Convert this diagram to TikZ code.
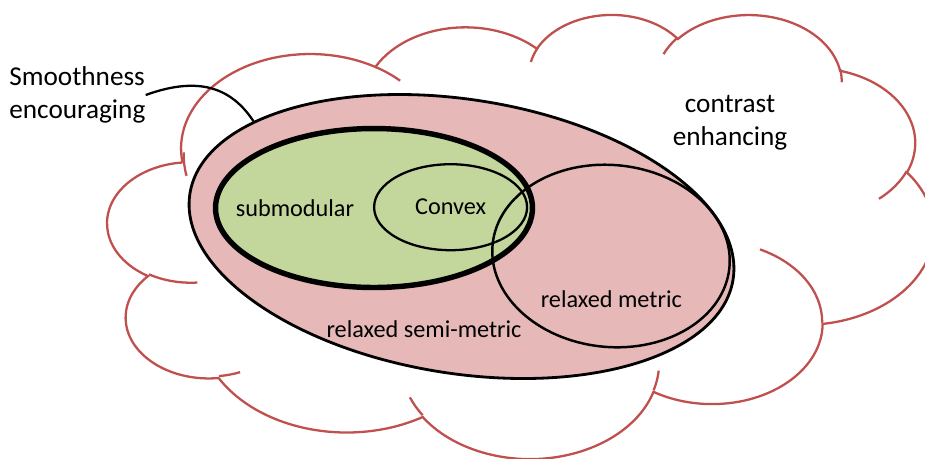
\documentclass[tikz,border=0pt]{standalone}
\usepackage{fontspec}
\setmainfont{Carlito}
\usepackage{tikz}
\usetikzlibrary{shapes.geometric}

\definecolor{cloudred}{HTML}{C0504D}
\definecolor{semipink}{HTML}{E6B9B8}
\definecolor{subgreen}{HTML}{C3D69B}

% parametric angle of the point seen under angle #3 from the centre
% of an ellipse with radii #1 and #2
\pgfmathdeclarefunction{lobeang}{3}{%
  \begingroup
  \pgfmathparse{atan2(#1*sin(#3),#2*cos(#3))}%
  \edef\lobet{\pgfmathresult}%
  \pgfmathparse{\lobet+360*round(((#3)-(\lobet))/360)}%
  \pgfmathsmuggle\pgfmathresult
  \endgroup}

\tikzset{
  lobe/.style={draw=cloudred, line width=1.3pt},
  blob/.style={ellipse, draw=black},
  bigtext/.style={font=\fontsize{15.5}{18.7}\selectfont},
  smalltext/.style={font=\fontsize{13.8}{16.5}\selectfont},
}

\begin{document}
\begin{tikzpicture}[x=0.02cm, y=-0.02cm, every node/.append style={inner sep=0pt}]
	\useasboundingbox (0,0) rectangle (925,458);
	%
	% cloud outline, eleven lobes
	\begin{scope}[shift={(107.7,13.5)}, xscale=1.9114, yscale=1.0277]
		\draw[lobe] (39.00,143.70)
		\foreach \rx/\ry/\ang/\swp in {67.53/91.90/-190.488/123.781, 53.33/72.67/-144.102/89.945,
			43.65/59.45/-145.808/99.723, 48.57/65.95/-130.986/117.242, 53.33/72.73/-78.709/109.027,
			67.75/92.20/-46.267/130.269, 57.85/78.67/0.625/114.033, 67.52/92.15/22.452/115.173,
			77.20/105.43/66.243/75.711, 43.60/59.18/-274.942/146.736, 43.45/59.45/-246.829/152.519}
		{ arc[start angle={lobeang(\rx,\ry,\ang)}, end angle={lobeang(\rx,\ry,\ang+\swp)}, x radius=\rx, y radius=\ry] }
		-- cycle;
		% overlapping lobe ends
		\foreach \x/\y/\rx/\ry/\ang/\swp in {46.93/261.77/43.45/59.45/86.742/26.430,
			69.28/348.99/43.60/59.18/73.611/11.447, 164.78/390.90/67.52/92.15/137.624/14.081,
			288.27/347.51/67.52/92.15/6.453/15.998, 341.29/229.54/57.85/78.67/-70.292/70.917,
			417.98/153.54/53.33/72.73/30.318/27.752, 383.24/54.26/48.57/65.95/-13.744/14.859,
			290.78/39.52/48.57/65.95/-149.181/18.195, 221.41/47.20/43.65/59.45/-163.494/17.686,
			140.00/51.92/67.53/91.90/-66.707/12.319, 41.27/157.89/67.53/91.90/163.693/19.274}
		\draw[lobe] (\x,\y) arc[start angle={lobeang(\rx,\ry,\ang)}, end angle={lobeang(\rx,\ry,\ang+\swp)}, x radius=\rx, y radius=\ry];
	\end{scope}
	%
	% the classes
	\node (semi) [blob, fill=semipink, line width=1.6pt, minimum width=11cm, minimum height=5.48cm, rotate=-9] at (461.5,236.5) {};
	\node (submod) [blob, fill=subgreen, line width=3.1pt, minimum width=6.34cm, minimum height=3.18cm] at (374,208) {};
	\node (convex) [blob, line width=1.3pt, minimum width=3.06cm, minimum height=1.72cm, smalltext] at (450.6,207.2) {Convex};
	\node (metric) [blob, line width=1.4pt, minimum width=4.76cm, minimum height=3.64cm, rotate=-5.6] at (611,256) {};
	%
	% labels
	\node (subl) [smalltext, anchor=base] at (295,216) {submodular};
	\node (metl) [smalltext, anchor=base] at (611.3,307.3) {relaxed metric};
	\node (semil) [smalltext, anchor=base] at (424,337) {relaxed semi-metric};
	\node (contrast) [bigtext, align=center] at (730,123) {contrast\\enhancing};
	\node (smooth) [bigtext, align=left, anchor=west] at (9,95) {Smoothness\\encouraging};
	%
	\draw[line width=1.3pt] (smooth.east) .. controls +(47,-17) and +(-25,-38) .. (semi.160);
\end{tikzpicture}
\end{document}
